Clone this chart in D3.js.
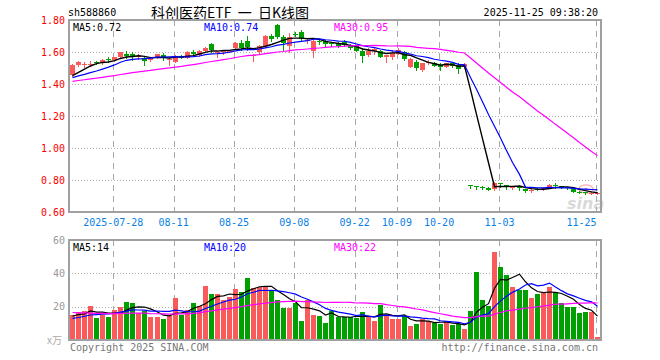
<!DOCTYPE html>
<html><head><meta charset="utf-8">
<script src="https://cdn.jsdelivr.net/npm/d3@7"></script>
<style>body{margin:0;background:#fff}svg{display:block}</style>
</head><body><svg id="c" width="660" height="360"></svg>
<script>
const dates = ["2025-07-17","2025-07-18","2025-07-21","2025-07-22","2025-07-23","2025-07-24","2025-07-25","2025-07-28","2025-07-29","2025-07-30","2025-07-31",
"2025-08-01","2025-08-04","2025-08-05","2025-08-06","2025-08-07","2025-08-08","2025-08-11","2025-08-12","2025-08-13","2025-08-14","2025-08-15","2025-08-18","2025-08-19","2025-08-20","2025-08-21","2025-08-22","2025-08-25","2025-08-26","2025-08-27","2025-08-28","2025-08-29",
"2025-09-01","2025-09-02","2025-09-03","2025-09-04","2025-09-05","2025-09-08","2025-09-09","2025-09-10","2025-09-11","2025-09-12","2025-09-15","2025-09-16","2025-09-17","2025-09-18","2025-09-19","2025-09-22","2025-09-23","2025-09-24","2025-09-25","2025-09-26","2025-09-29","2025-09-30",
"2025-10-09","2025-10-10","2025-10-13","2025-10-14","2025-10-15","2025-10-16","2025-10-17","2025-10-20","2025-10-21","2025-10-22","2025-10-23","2025-10-24","2025-10-27","2025-10-28","2025-10-29","2025-10-30","2025-10-31",
"2025-11-03","2025-11-04","2025-11-05","2025-11-06","2025-11-07","2025-11-10","2025-11-11","2025-11-12","2025-11-13","2025-11-14","2025-11-17","2025-11-18","2025-11-19","2025-11-20","2025-11-21","2025-11-24","2025-11-25"];

const open = [1.456,1.518,1.522,1.520,1.535,1.530,1.556,1.548,1.566,1.590,
 1.585,1.566,1.565,1.552,1.563,1.582,1.552,1.540,1.578,1.565,
 1.603,1.582,1.608,1.648,1.594,1.598,1.604,1.625,1.656,1.668,
 1.576,1.597,1.635,1.702,1.768,1.696,1.635,1.712,1.725,1.668,
 1.608,1.666,1.668,1.658,1.654,1.662,1.645,1.637,1.608,1.581,
 1.608,1.608,1.571,1.571,1.590,1.600,1.508,1.540,1.488,1.529,
 1.533,1.521,1.508,1.529,1.519,1.508,
 0.768,0.763,0.758,0.752,0.742,0.779,0.769,0.752,0.754,0.744,
 0.733,0.746,0.744,0.755,0.770,0.760,0.754,0.742,0.728,0.722,0.712,0.716];
const high = [1.522,1.542,1.535,1.545,1.545,1.558,1.566,1.570,1.600,1.606,
 1.598,1.590,1.568,1.566,1.590,1.592,1.562,1.580,1.582,1.606,
 1.612,1.610,1.632,1.655,1.605,1.612,1.615,1.660,1.672,1.697,
 1.590,1.645,1.705,1.712,1.775,1.705,1.720,1.725,1.740,1.690,
 1.672,1.672,1.675,1.664,1.662,1.672,1.650,1.640,1.622,1.622,
 1.622,1.612,1.582,1.610,1.622,1.604,1.560,1.550,1.532,1.552,
 1.538,1.530,1.532,1.540,1.530,1.530,
 0.770,0.765,0.760,0.754,0.785,0.782,0.770,0.762,0.756,0.746,
 0.746,0.750,0.756,0.772,0.779,0.762,0.756,0.744,0.730,0.724,0.722,0.725];
const low = [1.452,1.512,1.505,1.515,1.522,1.528,1.540,1.545,1.562,1.565,
 1.550,1.555,1.519,1.545,1.560,1.550,1.519,1.536,1.560,1.562,
 1.580,1.578,1.604,1.600,1.569,1.590,1.598,1.620,1.610,1.610,
 1.542,1.590,1.630,1.670,1.690,1.610,1.600,1.698,1.672,1.655,
 1.566,1.650,1.640,1.635,1.630,1.640,1.618,1.605,1.540,1.575,
 1.590,1.571,1.540,1.555,1.585,1.550,1.505,1.490,1.484,1.525,
 1.510,1.490,1.505,1.505,1.471,1.500,
 0.752,0.745,0.745,0.735,0.735,0.754,0.742,0.745,0.737,0.725,
 0.728,0.737,0.740,0.752,0.752,0.750,0.742,0.725,0.716,0.712,0.710,0.714];
const close = [1.518,1.535,1.526,1.528,1.532,1.553,1.550,1.566,1.597,1.577,
 1.570,1.572,1.546,1.560,1.585,1.565,1.557,1.577,1.565,1.602,
 1.586,1.606,1.628,1.612,1.597,1.605,1.608,1.656,1.626,1.632,
 1.582,1.640,1.700,1.680,1.696,1.655,1.695,1.708,1.680,1.676,
 1.668,1.660,1.648,1.650,1.640,1.646,1.625,1.608,1.575,1.608,
 1.617,1.571,1.581,1.596,1.612,1.554,1.554,1.498,1.529,1.540,
 1.512,1.508,1.529,1.513,1.492,1.525,
 0.763,0.759,0.754,0.737,0.779,0.773,0.754,0.758,0.748,0.731,
 0.740,0.742,0.752,0.769,0.760,0.756,0.748,0.728,0.720,0.716,0.716,0.720];
const volume = [15.0,17.0,17.6,20.4,13.4,15.0,14.0,18.0,19.6,23.1,
 22.4,16.4,17.4,14.0,14.0,12.6,14.4,25.3,15.0,18.0,
 22.4,20.6,32.5,27.7,27.7,24.1,26.0,30.6,28.9,37.2,
 31.2,31.8,31.8,29.2,24.1,19.4,19.4,22.4,11.5,24.1,
 15.0,14.4,10.1,17.4,13.6,13.6,13.6,13.0,17.0,14.4,
 11.5,21.0,14.4,12.6,12.6,14.4,8.3,9.6,12.6,11.5,
 10.0,9.6,10.6,9.2,9.6,6.5,
 17.4,40.6,24.1,20.4,52.7,43.7,38.8,32.0,30.1,30.1,
 25.5,27.9,28.5,32.0,28.9,22.3,19.6,19.6,16.3,17.0,16.8,2.0];
// trading days before the visible window (only used for the moving averages)
const priorClose = [1.372,1.380,1.378,1.390,1.385,1.395,1.400,1.392,1.405,1.410,1.402,1.412,1.418,1.410,1.420,1.425,1.418,1.428,1.430,1.420,1.425,1.432,1.420,1.430,1.433,1.430,1.428,1.428,1.456];
const priorVolume = [22,19,25,17,16,20,15,18,21,17,19,16,22,18,15,17,20,16,18,14,12,10,13,11,12,13,15,12,17];

const tickDates = ["2025-07-28","2025-08-11","2025-08-25","2025-09-08","2025-09-22","2025-10-09","2025-10-20","2025-11-03","2025-11-25"];
const tickLabels = ["2025-07-28","08-11","08-25","09-08","09-22","10-09","10-20","11-03","11-25"];
const priceTicks = [1.80,1.60,1.40,1.20,1.00,0.80,0.60];
const volTicks = [60,40,20];
const maPeriods = [5,10,30];
const maColors = ["#000000","#0000ff","#ff00ff"];

const UP = "#fa5a5a", DOWN = "#00a000";
const L = 69, R = 601, PT = 20, PB = 212, VT = 240, VB = 340;
const mono = "'DejaVu Sans Mono', monospace";

const svg = d3.select("#c");
svg.append("rect").attr("width",660).attr("height",360).attr("fill","#fff");

const x = d3.scaleBand().domain(dates).range([L,R]).padding(0.17);
const bw = 5;
const bx = d => Math.round(x(d) + x.bandwidth()/2 - bw/2);
const cx = d => bx(d) + 2.5;
const y = d3.scaleLinear().domain([0.6,1.8]).range([PB,PT]);
const vy = d3.scaleLinear().domain([0,60]).range([VB,VT]);

function movingAvg(prior, arr, n){
  const full = prior.concat(arr);
  const off = prior.length;
  return arr.map((_,i)=>d3.mean(full.slice(off+i-n+1, off+i+1)));
}
const priceMA = maPeriods.map(n=>movingAvg(priorClose, close, n));
const volMA = maPeriods.map(n=>movingAvg(priorVolume, volume, n));

// header
svg.append("text").attr("x",68).attr("y",16).attr("font-family",mono).attr("font-size",10).attr("fill","#000").text("sh588860");
svg.append("text").attr("x",151).attr("y",17.5).attr("font-family","'Noto Sans CJK SC'").attr("font-size",14).attr("fill","#000")
  .style("white-space","pre").text("科创医药ETF  一  日K线图");
svg.append("text").attr("x",598).attr("y",16).attr("text-anchor","end").attr("font-family",mono).attr("font-size",10).attr("fill","#000").text("2025-11-25 09:38:20");

// grids
function hGrid(vals, scale){
  svg.append("g").selectAll("line").data(vals).join("line")
    .attr("x1",L).attr("x2",R)
    .attr("y1",d=>Math.round(scale(d))+0.5).attr("y2",d=>Math.round(scale(d))+0.5)
    .attr("stroke","#b0b0b0").attr("stroke-dasharray","1,2");
}
hGrid([1.6,1.4,1.2,1.0,0.8], y);
hGrid([40,20], vy);
[[PT,PB],[VT,VB]].forEach(([t,b])=>{
  svg.append("g").selectAll("line").data(tickDates).join("line")
    .attr("x1",d=>Math.round(cx(d)-2)+0.5).attr("x2",d=>Math.round(cx(d)-2)+0.5)
    .attr("y1",t).attr("y2",b)
    .attr("stroke","#a8a8a8").attr("stroke-dasharray","6,5");
});

// watermark
const wm = svg.append("g").attr("opacity",0.55);
wm.append("ellipse").attr("cx",586).attr("cy",189).attr("rx",7).attr("ry",4).attr("fill","none").attr("stroke","#f08080").attr("stroke-width",1.5);
wm.append("circle").attr("cx",586).attr("cy",189).attr("r",1.6).attr("fill","#f08080");
wm.append("text").attr("x",567).attr("y",209).attr("font-family","'DejaVu Sans'").attr("font-style","italic").attr("font-weight","bold").attr("font-size",16).attr("fill","#bbbbbb").text("sina");

// candles
const idx = d3.range(dates.length);
const cg = svg.append("g").attr("shape-rendering","crispEdges");
cg.selectAll("line").data(idx).join("line")
  .attr("x1",i=>cx(dates[i])).attr("x2",i=>cx(dates[i]))
  .attr("y1",i=>Math.round(y(high[i]))).attr("y2",i=>Math.round(y(low[i]))+1)
  .attr("stroke",i=>close[i]>=open[i]?UP:DOWN);
cg.selectAll("rect").data(idx).join("rect")
  .attr("x",i=>bx(dates[i])).attr("width",bw)
  .attr("y",i=>Math.round(y(Math.max(open[i],close[i]))))
  .attr("height",i=>Math.max(1,Math.round(y(Math.min(open[i],close[i])))-Math.round(y(Math.max(open[i],close[i])))))
  .attr("fill",i=>close[i]>=open[i]?UP:DOWN);

// price MA lines
priceMA.forEach((ma,k)=>{
  svg.append("path").datum(idx)
    .attr("d",d3.line().x(i=>cx(dates[i])).y(i=>y(ma[i])))
    .attr("fill","none").attr("stroke",maColors[k]).attr("stroke-width",k===0?1.4:1.2);
});

// volume bars
const vg = svg.append("g").attr("shape-rendering","crispEdges");
vg.selectAll("rect").data(idx).join("rect")
  .attr("x",i=>bx(dates[i])).attr("width",bw)
  .attr("y",i=>Math.round(vy(volume[i])))
  .attr("height",i=>VB-Math.round(vy(volume[i])))
  .attr("fill",i=>close[i]>=open[i]?UP:DOWN);
volMA.forEach((ma,k)=>{
  svg.append("path").datum(idx)
    .attr("d",d3.line().x(i=>cx(dates[i])).y(i=>vy(ma[i])))
    .attr("fill","none").attr("stroke",maColors[k]).attr("stroke-width",1.2);
});

// frames
[[PT,PB],[VT,VB]].forEach(([t,b])=>{
  svg.append("rect").attr("x",L).attr("y",t).attr("width",R-L).attr("height",b-t)
    .attr("fill","none").attr("stroke","#a0a0a0").attr("stroke-width",2);
});

// axes
const ay = svg.append("g").attr("transform",`translate(${L-1},0)`)
  .call(d3.axisLeft(y).tickValues(priceTicks).tickFormat(d3.format(".2f")).tickSize(0).tickPadding(3));
ay.select(".domain").remove();
ay.selectAll("text").attr("font-family",mono).attr("font-size",10).attr("fill","#ff0000");

const av = svg.append("g").attr("transform",`translate(${L-1},0)`)
  .call(d3.axisLeft(vy).tickValues(volTicks).tickSize(0).tickPadding(3));
av.select(".domain").remove();
av.selectAll("text").attr("font-family",mono).attr("font-size",10).attr("fill","#999");
svg.append("text").attr("x",47).attr("y",344).attr("font-family","'Noto Sans CJK SC'").attr("font-size",10).attr("fill","#aaa").text("x万");

const ax = svg.append("g").attr("transform",`translate(0,${PB+7})`)
  .call(d3.axisBottom(x).tickValues(tickDates).tickFormat((d,i)=>tickLabels[i]).tickSize(0).tickPadding(0));
ax.select(".domain").remove();
ax.selectAll("text").attr("font-family",mono).attr("font-size",10).attr("fill","#0a7fe6")
  .attr("transform",(d,i)=> i===tickDates.length-1 ? "translate(-16,0)" : "translate(-1.5,0)");

// legends
const f2 = d3.format(".2f"), f0 = d3.format(".0f");
const last = dates.length-1;
const legX = [73,204,334];
maPeriods.forEach((n,k)=>{
  svg.append("text").attr("x",legX[k]).attr("y",31).attr("font-family",mono).attr("font-size",10)
    .attr("fill",maColors[k]).text(`MA${n}:${f2(priceMA[k][last])}`);
  svg.append("text").attr("x",legX[k]).attr("y",251).attr("font-family",mono).attr("font-size",10)
    .attr("fill",maColors[k]).text(`MA${n}:${f0(volMA[k][last])}`);
});

// footer
svg.append("text").attr("x",70).attr("y",351).attr("font-family",mono).attr("font-size",10).attr("fill","#777").text("Copyright 2025 SINA.COM");
svg.append("text").attr("x",598).attr("y",351).attr("text-anchor","end").attr("font-family",mono).attr("font-size",10).attr("fill","#777").text("http://finance.sina.com.cn");
</script></body></html>
